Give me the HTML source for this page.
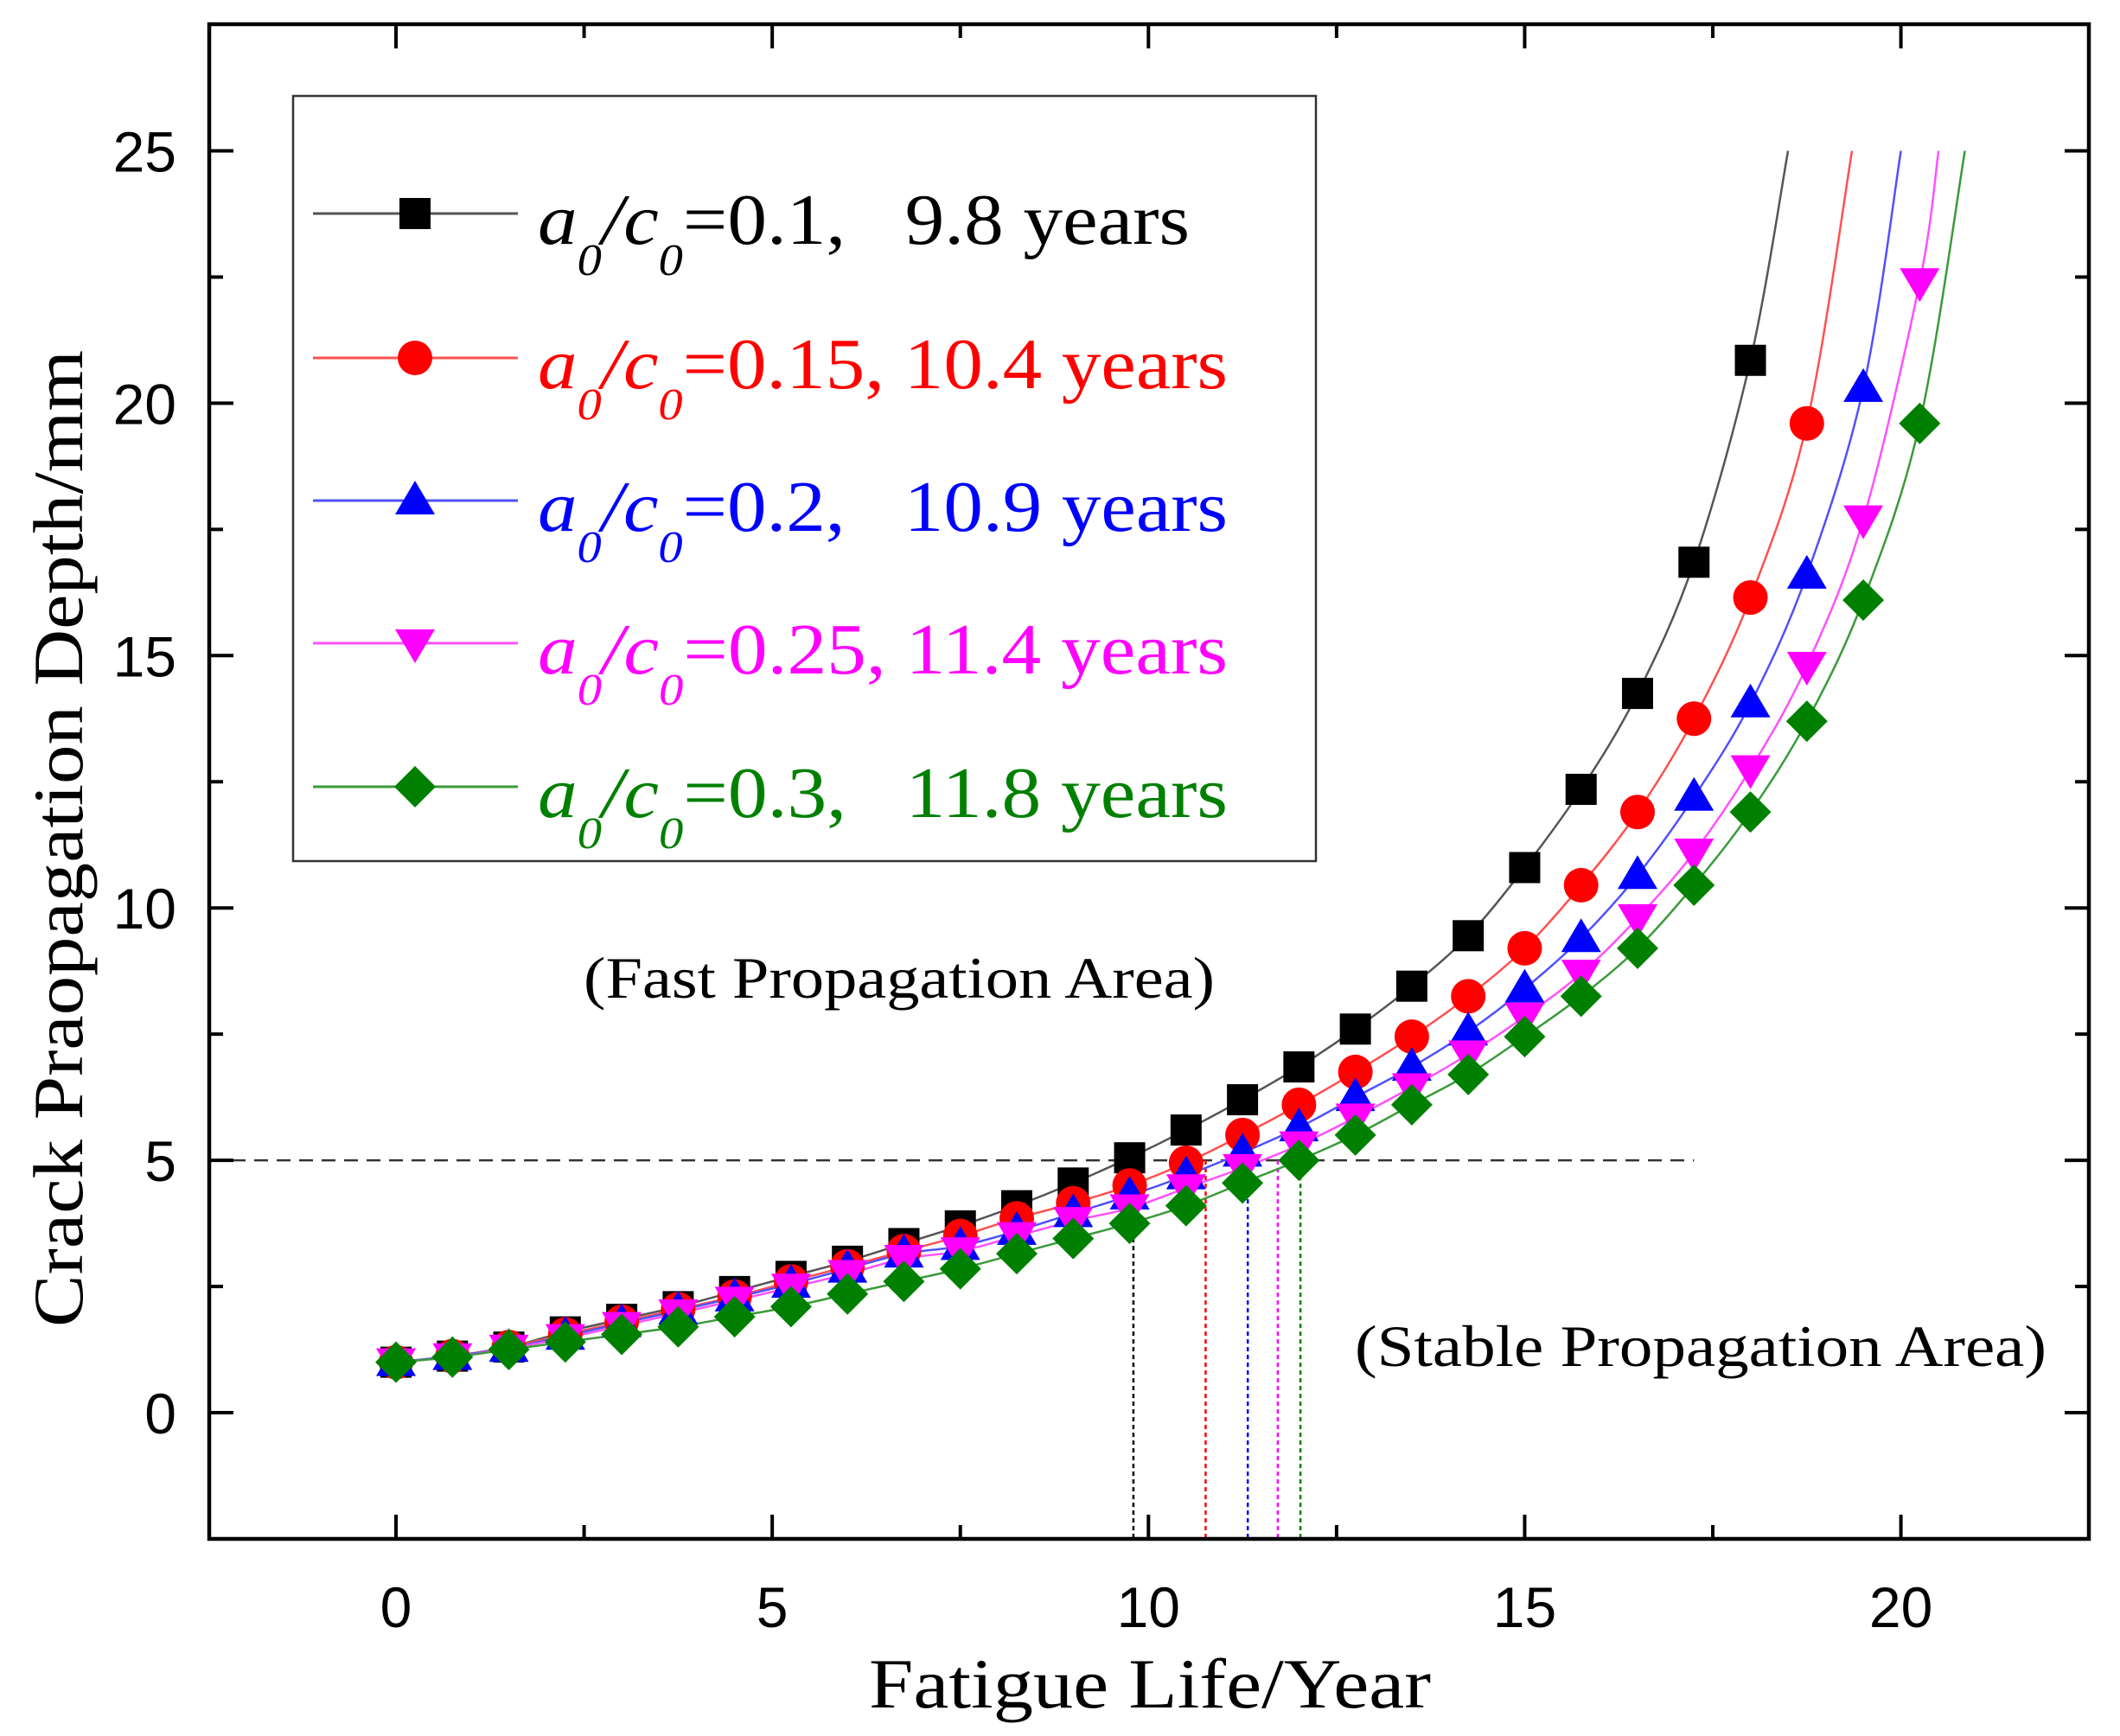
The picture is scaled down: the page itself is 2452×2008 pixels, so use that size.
<!DOCTYPE html>
<html><head><meta charset="utf-8"><style>
html,body{margin:0;padding:0;background:#fff}
svg{display:block}
text{white-space:pre}
</style></head><body>
<svg id="chart" width="2452" height="2008" viewBox="0 0 2452 2008" xmlns="http://www.w3.org/2000/svg">
<rect width="2452" height="2008" fill="#fff"/>
<g id="plot"></g>
</svg>
<script>
const xsBlack=[0,0.75,1.5,2.25,3,3.75,4.5,5.25,6,6.75,7.5,8.25,9,9.75,10.5,11.25,12,12.75,13.5,14.25,15,15.75,16.5,17.25,18];
const ysBlack=[1.0,1.12,1.3,1.6,1.85,2.1,2.4,2.7,3.0,3.35,3.7,4.1,4.55,5.05,5.6,6.2,6.85,7.6,8.45,9.45,10.8,12.35,14.25,16.85,20.85];
const xsRed=[0,0.75,1.5,2.25,3,3.75,4.5,5.25,6,6.75,7.5,8.25,9,9.75,10.5,11.25,12,12.75,13.5,14.25,15,15.75,16.5,17.25,18,18.75];
const ysRed=[1.0,1.12,1.3,1.55,1.8,2.05,2.3,2.6,2.9,3.2,3.5,3.85,4.15,4.5,4.95,5.5,6.1,6.75,7.45,8.25,9.2,10.45,11.9,13.75,16.15,19.6];
const xsBlue=[0,0.75,1.5,2.25,3,3.75,4.5,5.25,6,6.75,7.5,8.25,9,9.75,10.5,11.25,12,12.75,13.5,14.25,15,15.75,16.5,17.25,18,18.75,19.5];
const ysBlue=[1.0,1.12,1.28,1.52,1.77,2.02,2.28,2.55,2.85,3.15,3.3,3.6,3.95,4.3,4.7,5.15,5.65,6.25,6.85,7.55,8.4,9.4,10.65,12.2,14.05,16.6,20.3];
const xsMag=[0,0.75,1.5,2.25,3,3.75,4.5,5.25,6,6.75,7.5,8.25,9,9.75,10.5,11.25,12,12.75,13.5,14.25,15,15.75,16.5,17.25,18,18.75,19.5,20.25];
const ysMag=[1.0,1.1,1.27,1.48,1.72,1.97,2.22,2.48,2.75,3.05,3.2,3.5,3.8,4.05,4.45,4.85,5.3,5.85,6.45,7.1,7.85,8.7,9.8,11.1,12.75,14.8,17.7,22.4];
const xsGreen=[0,0.75,1.5,2.25,3,3.75,4.5,5.25,6,6.75,7.5,8.25,9,9.75,10.5,11.25,12,12.75,13.5,14.25,15,15.75,16.5,17.25,18,18.75,19.5,20.25];
const ysGreen=[1.0,1.1,1.25,1.4,1.55,1.7,1.9,2.1,2.35,2.6,2.85,3.15,3.45,3.75,4.1,4.55,5.0,5.5,6.1,6.7,7.45,8.25,9.2,10.45,11.9,13.7,16.1,19.6];
const endX=[18.5,19.35,20.0,20.5,20.85];
const lifeX=[9.8,10.76,11.32,11.72,12.02];
const xTicks=[0,5,10,15,20];
const yTicks=[0,5,10,15,20,25];
const legendLabels=["=0.1,   9.8 years","=0.15, 10.4 years","=0.2,   10.9 years","=0.25, 11.4 years","=0.3,   11.8 years"];
const colors=["#000000","#ff0000","#0000ff","#ff00ff","#008000"];
const lineColors=["#555555","#ff5050","#5050ff","#ff50ff","#3a9a3a"];
const markers=["square","circle","triangle","tri-down","diamond"];
const names=["black","red","blue","magenta","green"];
const XS=[xsBlack,xsRed,xsBlue,xsMag,xsGreen], YS=[ysBlack,ysRed,ysBlue,ysMag,ysGreen];

const L=242,R=2416,T=28,B=1780;
const sx=v=>458+v*87.03, sy=v=>1634-v*58.38;
const NS="http://www.w3.org/2000/svg";
const g=document.getElementById('plot');
function el(t,a,p){const e=document.createElementNS(NS,t);for(const k in a)e.setAttribute(k,a[k]);(p||g).appendChild(e);return e;}
function smooth(pts){let d=`M${pts[0][0]},${pts[0][1]}`;for(let i=0;i<pts.length-1;i++){const p0=pts[Math.max(0,i-1)],p1=pts[i],p2=pts[i+1],p3=pts[Math.min(pts.length-1,i+2)];d+=` C${p1[0]+(p2[0]-p0[0])/6},${p1[1]+(p2[1]-p0[1])/6} ${p2[0]-(p3[0]-p1[0])/6},${p2[1]-(p3[1]-p1[1])/6} ${p2[0]},${p2[1]}`;}return d;}
function marker(type,x,y,c,parent){let e;const s=18;
 if(type==="square")e=el('rect',{x:x-s,y:y-s,width:2*s,height:2*s,fill:c},parent);
 else if(type==="circle")e=el('circle',{cx:x,cy:y,r:s+2,fill:c},parent);
 else if(type==="triangle")e=el('polygon',{points:`${x},${y-s-5} ${x+s+5},${y+s-2} ${x-s-5},${y+s-2}`,fill:c},parent);
 else if(type==="tri-down")e=el('polygon',{points:`${x},${y+s+5} ${x+s+5},${y-s+2} ${x-s-5},${y-s+2}`,fill:c},parent);
 else e=el('polygon',{points:`${x},${y-s-6} ${x+s+6},${y} ${x},${y+s+6} ${x-s-6},${y}`,fill:c},parent);
 return e;}

const hd=el('line',{x1:L,y1:sy(5),x2:sx(17.25),y2:sy(5),stroke:'#333','stroke-width':2.5,'stroke-dasharray':'16,10'});


lifeX.forEach((v,i)=>{
 const ln=el('line',{x1:sx(v),y1:sy(5),x2:sx(v),y2:B,stroke:colors[i],'stroke-width':2.5,'stroke-dasharray':'5,4'});
 
 
});

for(let i=0;i<5;i++){
 const pts=XS[i].map((x,j)=>[sx(x),sy(YS[i][j])]);
 pts.push([sx(endX[i]),sy(25)]);
 const p=el('path',{d:smooth(pts),fill:'none',stroke:lineColors[i],'stroke-width':2.5});
 
 
}
for(let i=0;i<5;i++){
 XS[i].forEach((x,j)=>{
  const m=marker(markers[i],sx(x),sy(YS[i][j]),colors[i]);
  
  
 });
}

const fr=el('rect',{x:L,y:T,width:R-L,height:B-T,fill:'none',stroke:'#000','stroke-width':4.5});


for(let v=-2.5;v<=22.5;v+=2.5){const x=sx(v);if(x<L+2||x>R-2)continue;const len=(v%5===0)?28:16;
 el('line',{x1:x,y1:B,x2:x,y2:B-len,stroke:'#000','stroke-width':4});
 el('line',{x1:x,y1:T,x2:x,y2:T+len,stroke:'#000','stroke-width':4});}
for(let v=-2.5;v<=27.5;v+=2.5){const y=sy(v);if(y<T+2||y>B-2)continue;const len=(v%5===0)?28:16;
 el('line',{x1:L,y1:y,x2:L+len,y2:y,stroke:'#000','stroke-width':4});
 el('line',{x1:R,y1:y,x2:R-len,y2:y,stroke:'#000','stroke-width':4});}
xTicks.forEach(v=>{const t=el('text',{x:sx(v),y:1882,'text-anchor':'middle','font-family':'Liberation Sans, sans-serif','font-size':66});t.textContent=v;
 
 });
yTicks.forEach(v=>{const t=el('text',{x:204,y:sy(v)+24,'text-anchor':'end','font-family':'Liberation Sans, sans-serif','font-size':66});t.textContent=v;
 
 });

const xt=el('text',{x:1330,y:1975,'text-anchor':'middle','font-family':'Liberation Serif, serif','font-size':82,textLength:650,lengthAdjust:'spacingAndGlyphs'});xt.textContent='Fatigue Life/Year';


const yt=el('text',{x:0,y:0,'text-anchor':'middle','font-family':'Liberation Serif, serif','font-size':82,textLength:1130,lengthAdjust:'spacingAndGlyphs',transform:'translate(95,970) rotate(-90)'});yt.textContent='Crack Praopagation Depth/mm';


const a1=el('text',{x:1040,y:1154,'text-anchor':'middle','font-family':'Liberation Serif, serif','font-size':68,textLength:730,lengthAdjust:'spacingAndGlyphs'});a1.textContent='(Fast Propagation Area)';


const a2=el('text',{x:1967,y:1580,'text-anchor':'middle','font-family':'Liberation Serif, serif','font-size':68,textLength:800,lengthAdjust:'spacingAndGlyphs'});a2.textContent='(Stable Propagation Area)';



const lg=el('g',{});


el('rect',{x:339,y:111,width:1183,height:885,fill:'#fff',stroke:'#333','stroke-width':2.5},lg);
const rowY=[247,414,579,744,910], textLen=[754,798,798,798,798];
for(let i=0;i<5;i++){
 const e=el('g',{},lg);
 
 
 const y=rowY[i];
 el('line',{x1:362,y1:y,x2:599,y2:y,stroke:lineColors[i],'stroke-width':3},e);
 marker(markers[i],480,y,colors[i],e);
 const t=el('text',{x:622,y:y+35,'font-family':'Liberation Serif, serif','font-size':84,fill:colors[i],textLength:textLen[i],lengthAdjust:'spacingAndGlyphs'},e);
 const mk=(txt,attrs)=>{const s=document.createElementNS(NS,'tspan');for(const k in attrs)s.setAttribute(k,attrs[k]);s.textContent=txt;t.appendChild(s);};
 mk('a',{'font-style':'italic'});
 mk('0',{'font-style':'italic','font-size':52,dy:36});
 mk('/c',{'font-style':'italic',dy:-36});
 mk('0',{'font-style':'italic','font-size':52,dy:36});
 mk(legendLabels[i],{dy:-36});
}
</script>
</body></html>
